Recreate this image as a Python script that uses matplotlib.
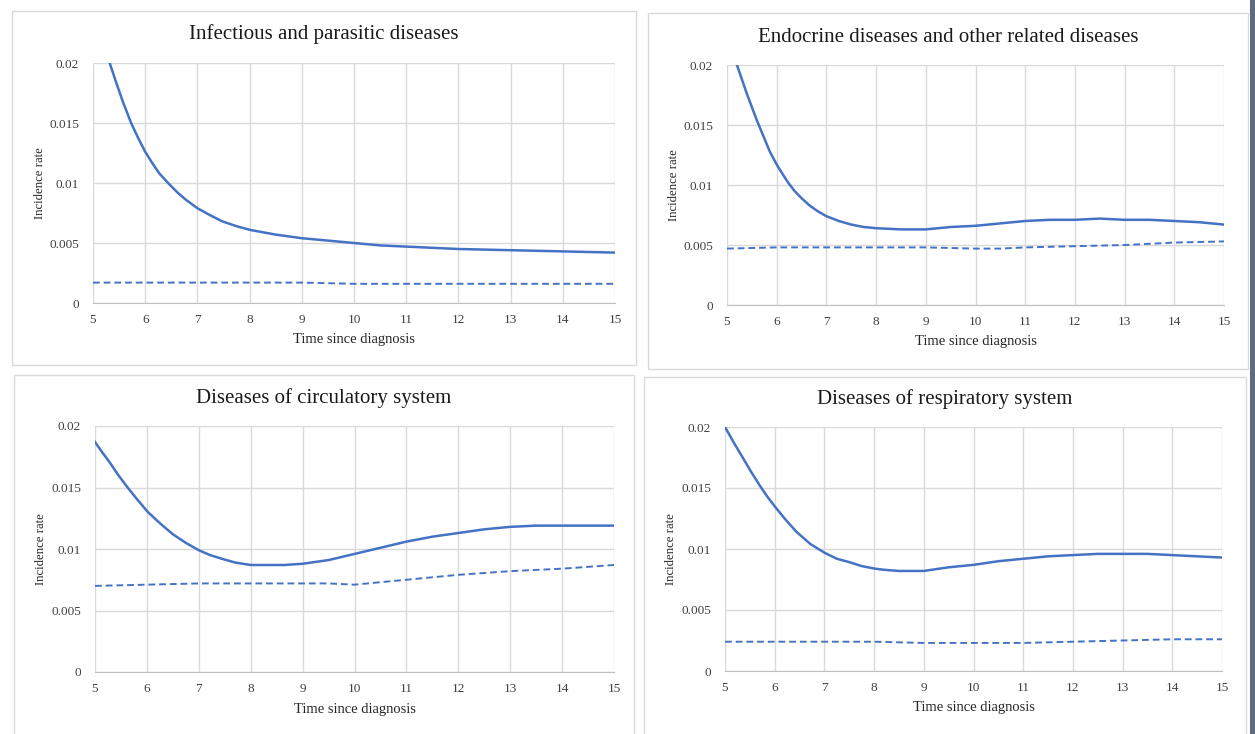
import matplotlib
matplotlib.use("Agg")
import matplotlib.pyplot as plt
from matplotlib.patches import Rectangle
from matplotlib.ticker import FuncFormatter

W, H = 1255, 734

titles = ["Infectious and parasitic diseases",
          "Endocrine diseases and other related diseases",
          "Diseases of circulatory system",
          "Diseases of respiratory system"]
xlabel = "Time since diagnosis"
ylabel = "Incidence rate"
x_ticks = [5, 6, 7, 8, 9, 10, 11, 12, 13, 14, 15]
y_ticks = [0, 0.005, 0.01, 0.015, 0.02]

# Infectious and parasitic diseases
inf_solid_x = [5.32, 5.45, 5.57, 5.73, 5.86, 6.0, 6.13, 6.27, 6.46, 6.62, 6.78, 7.0,
               7.25, 7.48, 7.75, 8.0, 8.5, 9, 9.5, 10, 10.5, 11, 12, 13, 14, 15]
inf_solid_y = [0.02, 0.0183, 0.0168, 0.0150, 0.0138, 0.0126, 0.0117, 0.0108, 0.0099,
               0.0092, 0.0086, 0.0079, 0.0073, 0.0068, 0.0064, 0.0061, 0.0057, 0.0054,
               0.0052, 0.0050, 0.0048, 0.0047, 0.0045, 0.0044, 0.0043, 0.0042]
inf_dash_x = [5, 6, 7, 8, 9, 10, 11, 12, 13, 14, 15]
inf_dash_y = [0.0017, 0.0017, 0.0017, 0.0017, 0.0017, 0.0016, 0.0016, 0.0016, 0.0016,
              0.0016, 0.0016]

# Endocrine diseases and other related diseases
end_solid_x = [5.2, 5.3, 5.4, 5.5, 5.6, 5.73, 5.86, 6.0, 6.12, 6.23, 6.36, 6.5, 6.66,
               6.83, 7.0, 7.25, 7.5, 7.75, 8.0, 8.5, 9, 9.5, 10, 10.5, 11, 11.5, 12,
               12.5, 13, 13.5, 14, 14.5, 15]
end_solid_y = [0.02, 0.0188, 0.0176, 0.0165, 0.0154, 0.0141, 0.0128, 0.0117, 0.0109,
               0.0102, 0.0095, 0.0089, 0.0083, 0.0078, 0.0074, 0.0070, 0.0067, 0.0065,
               0.0064, 0.0063, 0.0063, 0.0065, 0.0066, 0.0068, 0.0070, 0.0071, 0.0071,
               0.0072, 0.0071, 0.0071, 0.0070, 0.0069, 0.0067]
end_dash_x = [5, 6, 7, 8, 9, 10, 10.5, 11, 12, 13, 14, 15]
end_dash_y = [0.0047, 0.0048, 0.0048, 0.0048, 0.0048, 0.0047, 0.0047, 0.0048, 0.0049,
              0.0050, 0.0052, 0.0053]

# Diseases of circulatory system
cir_solid_x = [5.0, 5.15, 5.29, 5.45, 5.61, 5.8, 6.02, 6.25, 6.5, 6.75, 7.0, 7.22,
               7.45, 7.7, 8.0, 8.3, 8.65, 9, 9.5, 10, 10.5, 11, 11.5, 12, 12.5, 13,
               13.5, 14, 15]
cir_solid_y = [0.0187, 0.0178, 0.0170, 0.0160, 0.0151, 0.0141, 0.0130, 0.0121, 0.0112,
               0.0105, 0.0099, 0.0095, 0.0092, 0.0089, 0.0087, 0.0087, 0.0087, 0.0088,
               0.0091, 0.0096, 0.0101, 0.0106, 0.0110, 0.0113, 0.0116, 0.0118, 0.0119,
               0.0119, 0.0119]
cir_dash_x = [5, 6, 7, 8, 9, 9.5, 10, 10.5, 11, 12, 13, 14, 15]
cir_dash_y = [0.0070, 0.0071, 0.0072, 0.0072, 0.0072, 0.0072, 0.0071, 0.0073, 0.0075,
              0.0079, 0.0082, 0.0084, 0.0087]

# Diseases of respiratory system
res_solid_x = [5.0, 5.18, 5.37, 5.53, 5.7, 5.85, 6.0, 6.22, 6.44, 6.72, 7.0, 7.25,
               7.52, 7.75, 8.0, 8.19, 8.5, 9, 9.5, 10, 10.5, 11, 11.5, 12, 12.5, 13,
               13.5, 14, 14.5, 15]
res_solid_y = [0.02, 0.0187, 0.0174, 0.0163, 0.0152, 0.0143, 0.0135, 0.0124, 0.0114,
               0.0104, 0.0097, 0.0092, 0.0089, 0.0086, 0.0084, 0.0083, 0.0082, 0.0082,
               0.0085, 0.0087, 0.0090, 0.0092, 0.0094, 0.0095, 0.0096, 0.0096, 0.0096,
               0.0095, 0.0094, 0.0093]
res_dash_x = [5, 6, 7, 8, 9, 10, 11, 12, 13, 14, 15]
res_dash_y = [0.0024, 0.0024, 0.0024, 0.0024, 0.0023, 0.0023, 0.0023, 0.0024, 0.0025,
              0.0026, 0.0026]

series = [(inf_solid_x, inf_solid_y, inf_dash_x, inf_dash_y),
          (end_solid_x, end_solid_y, end_dash_x, end_dash_y),
          (cir_solid_x, cir_solid_y, cir_dash_x, cir_dash_y),
          (res_solid_x, res_solid_y, res_dash_x, res_dash_y)]

# layout in pixels: (x_left, x_right, y_top, y_bottom) of plot areas
axes_px = [(93, 615, 63, 303), (727, 1224, 65, 305),
           (95, 614, 426, 672), (725, 1222, 427, 671)]
panel_px = [(12, 636, 11, 365), (648, 1248, 13, 369),
            (14, 634, 375, 740), (644, 1246, 377, 740)]
title_y = [34, 37, 398, 399]
xlab_y = [339, 341, 709, 708]
ylab_x = [40, 674, 41, 671]

blue = "#4472C4"
grid_c = "#d9d9d9"
serif = ["Liberation Serif", "DejaVu Serif"]

fig = plt.figure(figsize=(W / 100, H / 100), dpi=100)
fig.patch.set_facecolor("white")

for (x0, x1, y0, y1) in panel_px:
    fig.add_artist(Rectangle((x0 / W, 1 - y1 / H), (x1 - x0) / W, (y1 - y0) / H,
                             transform=fig.transFigure, fill=False,
                             edgecolor="#d9d9d9", linewidth=1.0))
# dark strip at right edge
fig.add_artist(Rectangle((1250 / W, 0), 5 / W, 1, transform=fig.transFigure,
                         facecolor="#5b6b80", edgecolor="none"))

fmt = FuncFormatter(lambda v, p: "0" if v == 0 else ("%g" % v))

for i, (x0, x1, y0, y1) in enumerate(axes_px):
    ax = fig.add_axes([x0 / W, 1 - y1 / H, (x1 - x0) / W, (y1 - y0) / H])
    sx, sy, dx, dy = series[i]
    ax.plot(sx, sy, color=blue, linewidth=1.8, solid_joinstyle="round")
    ax.plot(dx, dy, color=blue, linewidth=1.4, linestyle=(0, (3.5, 2.0)))
    ax.set_xlim(5, 15)
    ax.set_ylim(0, 0.02)
    ax.set_xticks(x_ticks)
    ax.set_yticks(y_ticks)
    ax.yaxis.set_major_formatter(fmt)
    ax.grid(True, color=grid_c, linewidth=1.0)
    ax.set_axisbelow(True)
    for s in ["top", "right", "left"]:
        ax.spines[s].set_visible(False)
    ax.spines["bottom"].set_color("#bfbfbf")
    ax.tick_params(length=0, labelsize=9.5, colors="#404040")
    ax.tick_params(axis="x", pad=8)
    ax.tick_params(axis="y", pad=10)
    for lab in ax.get_xticklabels() + ax.get_yticklabels():
        lab.set_family(serif)
    px0, px1 = panel_px[i][0], panel_px[i][1]
    fig.text((px0 + px1) / 2 / W, 1 - title_y[i] / H, titles[i], ha="center", va="center",
             fontsize=15, family=serif, color="#1a1a1a")
    fig.text((x0 + x1) / 2 / W, 1 - xlab_y[i] / H, xlabel, ha="center", va="center",
             fontsize=10.5, family=serif, color="#262626")
    fig.text(ylab_x[i] / W, 1 - (y0 + y1) / 2 / H, ylabel, ha="center", va="center",
             rotation=90, fontsize=9.2, family=serif, color="#262626")

fig.savefig("out.png", dpi=100, facecolor="white")
